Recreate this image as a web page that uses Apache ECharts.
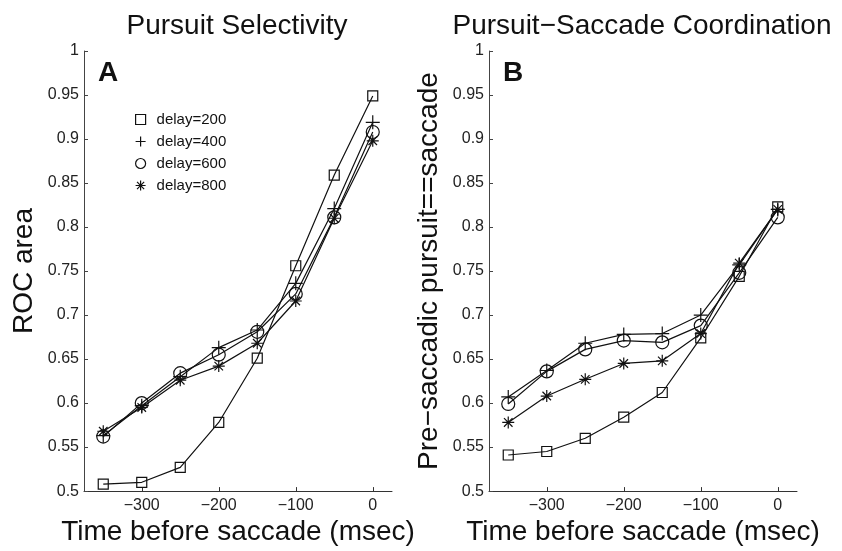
<!DOCTYPE html>
<html>
<head>
<meta charset="utf-8">
<script src="https://cdn.jsdelivr.net/npm/echarts@6/dist/echarts.min.js"></script>
<style>html,body{margin:0;padding:0;background:#fff}#c{width:842px;height:551px}</style>
</head>
<body>
<div id="c"></div>
<script>
// ---- data ----
const timeBeforeSaccade = [-350, -300, -250, -200, -150, -100, -50, 0];
const xTickValues = [-300, -200, -100, 0];
const seriesNames = ['delay=200', 'delay=400', 'delay=600', 'delay=800'];

// Panel A: Pursuit Selectivity (ROC area)
const selDelay200 = [0.508, 0.510, 0.527, 0.578, 0.651, 0.756, 0.859, 0.949];
const selDelay400 = [0.563, 0.597, 0.630, 0.663, 0.683, 0.736, 0.821, 0.919];
const selDelay600 = [0.562, 0.600, 0.634, 0.655, 0.681, 0.724, 0.811, 0.908];
const selDelay800 = [0.568, 0.595, 0.626, 0.642, 0.668, 0.716, 0.810, 0.898];

// Panel B: Pursuit-Saccade Coordination
const coordDelay200 = [0.541, 0.545, 0.560, 0.584, 0.612, 0.674, 0.744, 0.823];
const coordDelay400 = [0.607, 0.637, 0.668, 0.678, 0.679, 0.700, 0.757, 0.820];
const coordDelay600 = [0.599, 0.636, 0.661, 0.671, 0.669, 0.688, 0.748, 0.811];
const coordDelay800 = [0.578, 0.608, 0.627, 0.645, 0.648, 0.679, 0.759, 0.820];

// ---- styling ----
const FONT = 'Liberation Sans, Arial, Helvetica, sans-serif';
const INK = '#111';
const plusPath = 'path://M0,-1L0,1M-1,0L1,0';
const starPath = 'path://M0,-1L0,1M-1,0L1,0M-0.71,-0.71L0.71,0.71M-0.71,0.71L0.71,-0.71';
const markers = [
  { symbol: 'rect', size: 10 },
  { symbol: plusPath, size: 14 },
  { symbol: 'circle', size: 13 },
  { symbol: starPath, size: 12 }
];
const hollow = { color: 'rgba(0,0,0,0)', borderColor: INK, borderWidth: 1.2 };
const minusFmt = v => String(v).replace('-', '\u2212');

function xAxis(gridIndex) {
  return {
    type: 'value', gridIndex, min: -375, max: 25,
    name: 'Time before saccade (msec)', nameLocation: 'middle', nameGap: 24,
    nameTextStyle: { fontFamily: FONT, fontSize: 28, color: INK },
    axisLine: { show: true, onZero: false, lineStyle: { color: '#333', width: 1 } },
    axisTick: { show: true, inside: true, length: 4, customValues: xTickValues, lineStyle: { color: '#333' } },
    axisLabel: { customValues: xTickValues, formatter: minusFmt, fontFamily: FONT, fontSize: 16, color: '#222', margin: 6 },
    splitLine: { show: false }
  };
}
function yAxis(gridIndex, name, gap) {
  return {
    type: 'value', gridIndex, min: 0.5, max: 1, interval: 0.05,
    name, nameLocation: 'middle', nameGap: gap,
    nameTextStyle: { fontFamily: FONT, fontSize: 28, color: INK },
    axisLine: { show: true, onZero: false, lineStyle: { color: '#444', width: 1 } },
    axisTick: { show: true, inside: true, length: 4, lineStyle: { color: '#444' } },
    axisLabel: { fontFamily: FONT, fontSize: 16, color: '#222', margin: 5 },
    splitLine: { show: false }
  };
}
function mkSeries(name, values, idx, axisIndex) {
  return {
    name, type: 'line', xAxisIndex: axisIndex, yAxisIndex: axisIndex,
    data: timeBeforeSaccade.map((t, i) => [t, values[i]]),
    symbol: markers[idx].symbol, symbolSize: markers[idx].size,
    showSymbol: true, showAllSymbol: true,
    lineStyle: { color: INK, width: 1.2 },
    itemStyle: hollow,
    emphasis: { disabled: true },
    z: 2
  };
}

const panelA = [selDelay200, selDelay400, selDelay600, selDelay800];
const panelB = [coordDelay200, coordDelay400, coordDelay600, coordDelay800];

const series = [];
panelA.forEach((v, i) => series.push(mkSeries(seriesNames[i], v, i, 0)));
panelB.forEach((v, i) => series.push(mkSeries(seriesNames[i], v, i, 1)));

const chart = echarts.init(document.getElementById('c'), null, { renderer: 'canvas' });
chart.setOption({
  animation: false,
  backgroundColor: '#fff',
  grid: [
    { left: 84, right: 450, top: 51, bottom: 53 },
    { left: 489, right: 45, top: 51, bottom: 53 }
  ],
  xAxis: [xAxis(0), xAxis(1)],
  yAxis: [yAxis(0, 'ROC area', 46), yAxis(1, 'Pre\u2212saccadic pursuit==saccade', 46)],
  legend: {
    orient: 'vertical', left: 135, top: 112, padding: 0, itemWidth: 10, itemHeight: 10, itemGap: 7,
    selectedMode: false,
    textStyle: { fontFamily: FONT, fontSize: 15, color: INK, padding: [0, 0, 0, 6] },
    data: seriesNames.map((n, i) => ({
      name: n,
      icon: markers[i].symbol,
      itemStyle: hollow
    }))
  },
  graphic: [
    { type: 'text', x: 237, y: 26, style: { text: 'Pursuit Selectivity', fontFamily: FONT, fontSize: 28, fill: INK, align: 'center', verticalAlign: 'middle' } },
    { type: 'text', x: 642, y: 26, style: { text: 'Pursuit\u2212Saccade Coordination', fontFamily: FONT, fontSize: 28, fill: INK, align: 'center', verticalAlign: 'middle' } },
    { type: 'text', x: 98, y: 73, style: { text: 'A', fontFamily: FONT, fontSize: 28, fontWeight: 'bold', fill: INK, align: 'left', verticalAlign: 'middle' } },
    { type: 'text', x: 503, y: 73, style: { text: 'B', fontFamily: FONT, fontSize: 28, fontWeight: 'bold', fill: INK, align: 'left', verticalAlign: 'middle' } }
  ],
  series
});
</script>
</body>
</html>
